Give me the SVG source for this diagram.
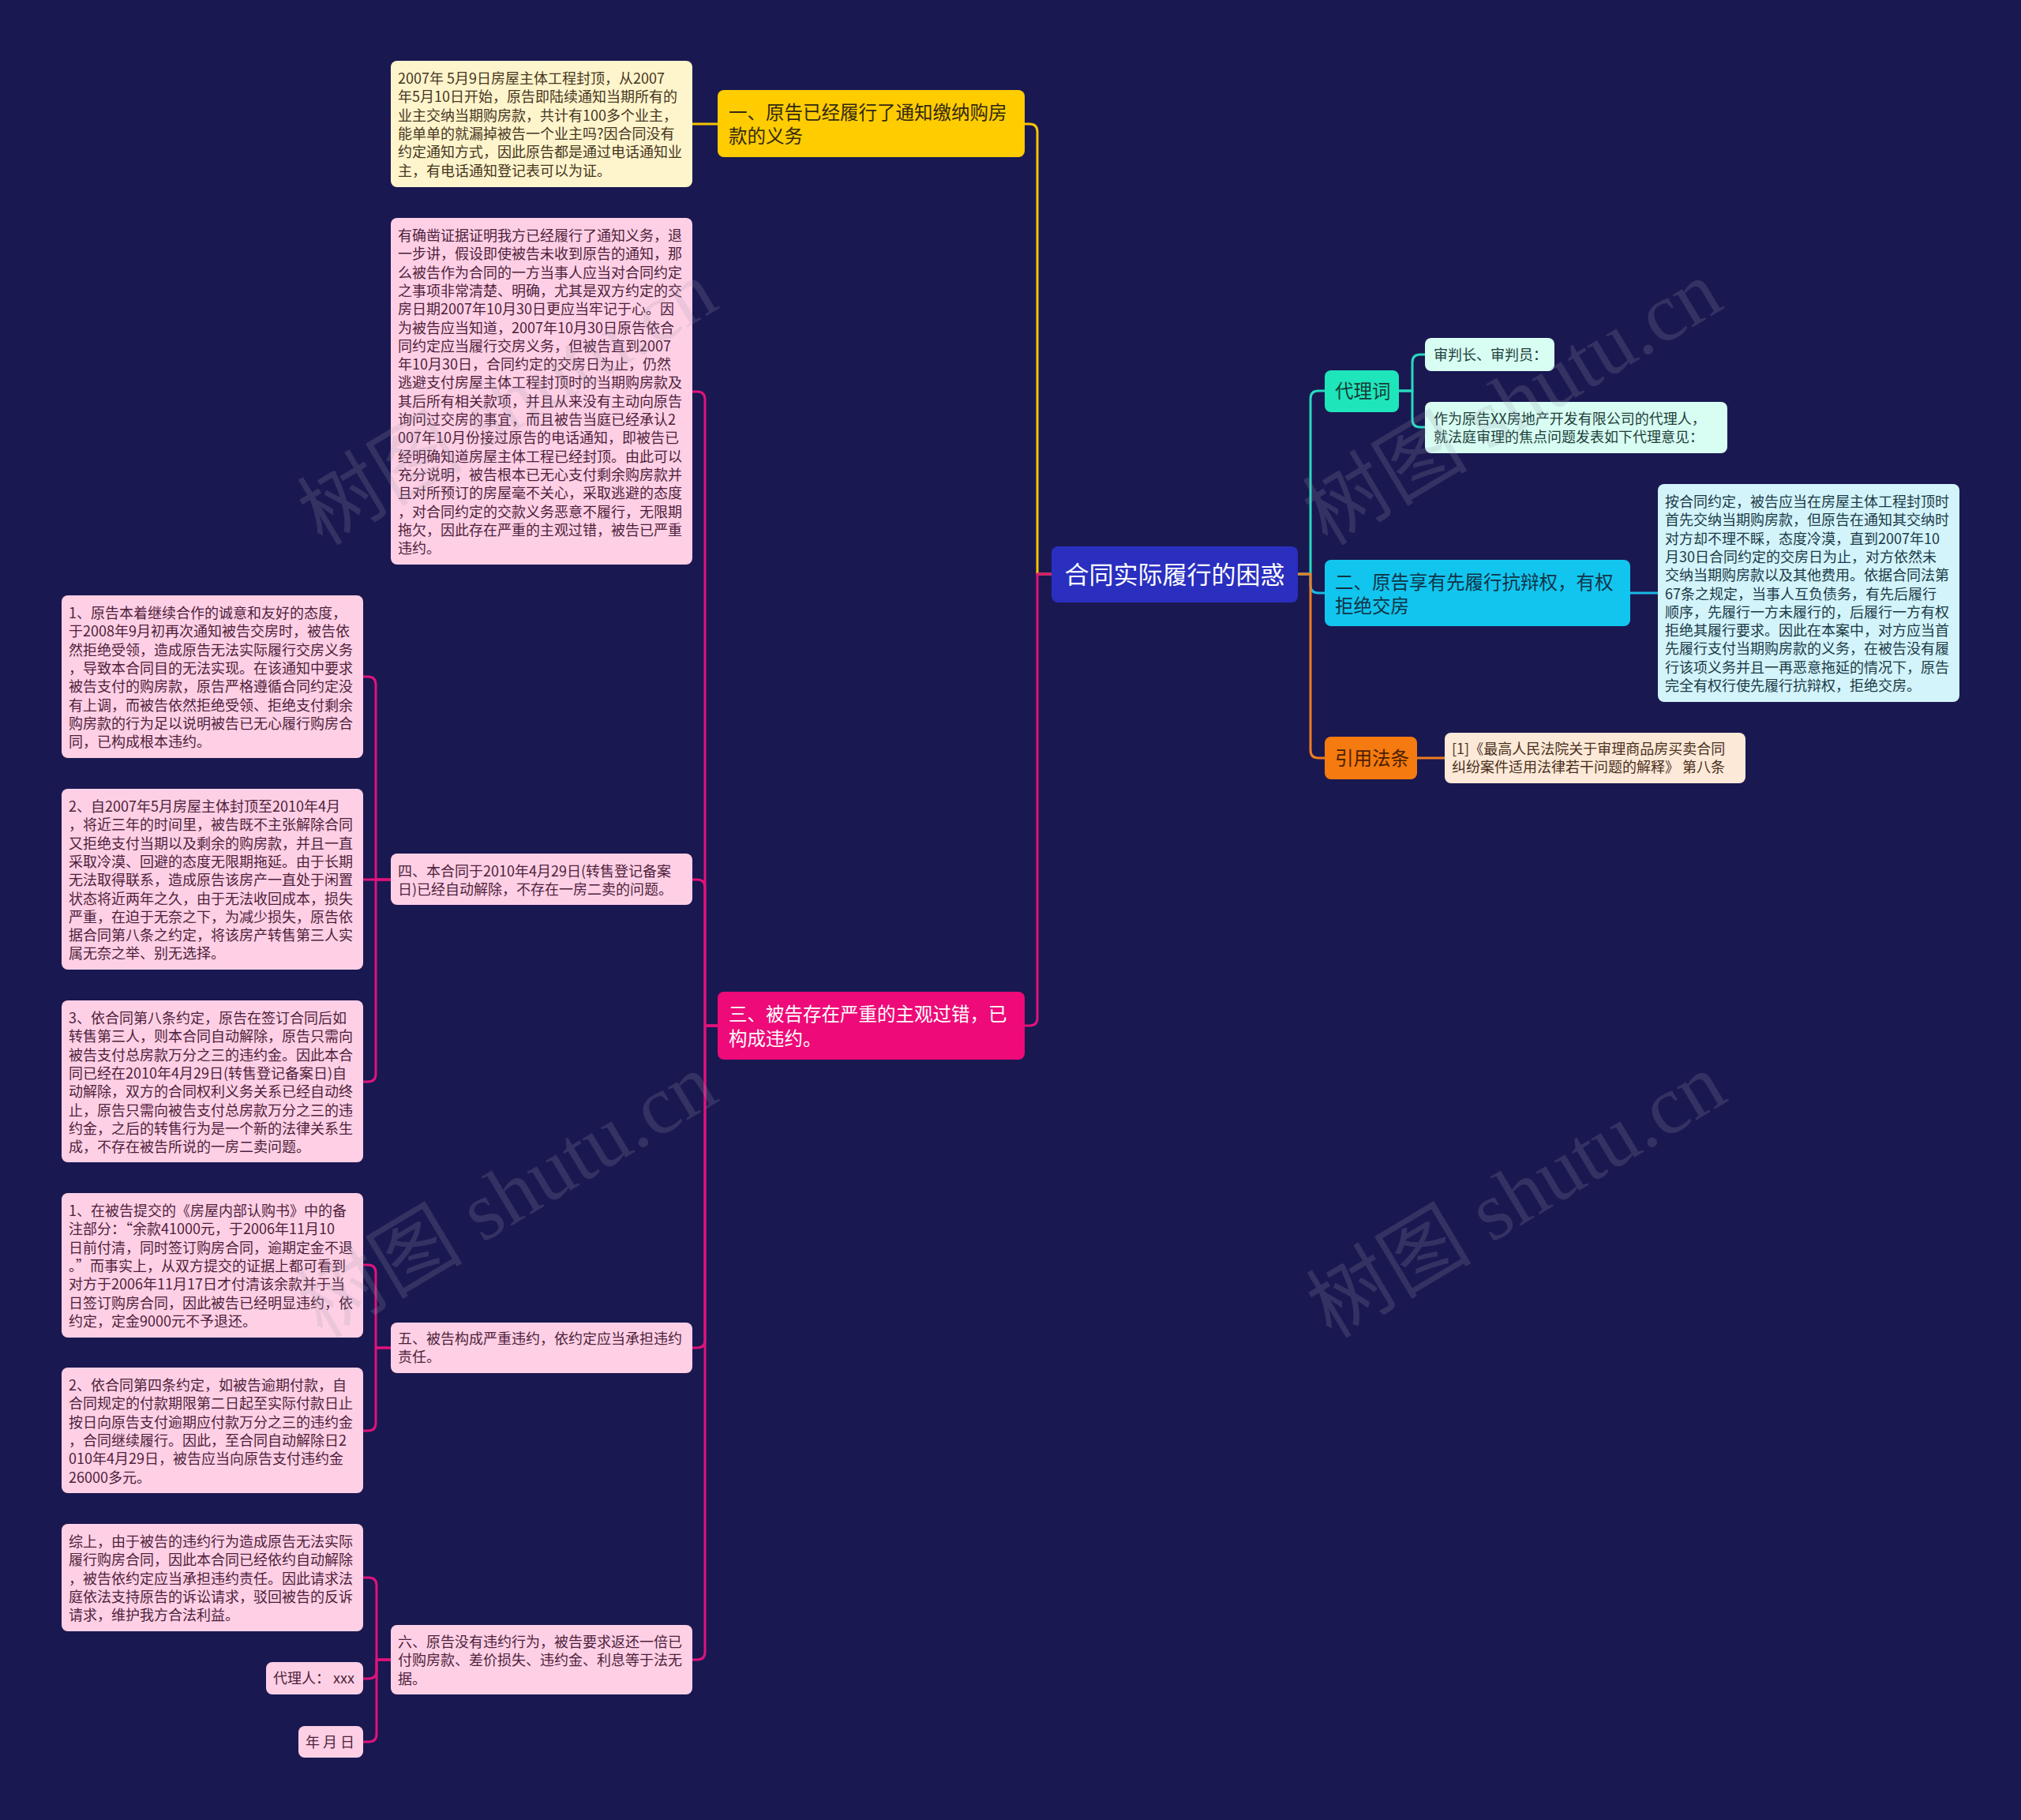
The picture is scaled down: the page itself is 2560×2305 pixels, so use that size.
<svg xmlns="http://www.w3.org/2000/svg" width="2560" height="2305" viewBox="0 0 2560 2305">
<style>
text{font-family:"Noto Sans CJK SC","Noto Sans",sans-serif}
.t18{font-size:18px}
.t23{font-size:23.5px}
.t31{font-size:31px}
.c{fill:none;stroke-width:3;stroke-linecap:round;stroke-linejoin:round}
.cy{stroke:#f5c400}.cp{stroke:#e0137a}.ct{stroke:#29d9c0}.cc{stroke:#18bbe4}.co{stroke:#ef7d1f}
.pk rect{fill:#ffd0e5}.pk text{fill:#4e1f3c}
.wm{font-family:"Liberation Serif","Noto Sans CJK SC",serif;font-size:105px;fill:#9a9ab0;fill-opacity:0.2}
</style>
<rect x="0" y="0" width="2560" height="2305" fill="#1a1851"/>

<g id="connectors">
<path class="c cy" d="M1332,727 H1314 V167 Q1314,157 1304,157 H1298"/>
<path class="c cp" d="M1332,727 H1314 V1289 Q1314,1299 1304,1299 H1298"/>
<path class="c cy" d="M909,157 H877"/>
<path class="c cp" d="M909,1299 H893 V506 Q893,496 883,496 H877"/>
<path class="c cp" d="M909,1299 H893 V1124 Q893,1114 883,1114 H877"/>
<path class="c cp" d="M909,1299 H893 V1697 Q893,1707 883,1707 H877"/>
<path class="c cp" d="M909,1299 H893 V2092 Q893,2102 883,2102 H877"/>
<path class="c cp" d="M495,1114 H476 V867 Q476,857 466,857 H460"/>
<path class="c cp" d="M495,1114 H460"/>
<path class="c cp" d="M495,1114 H476 V1360 Q476,1370 466,1370 H460"/>
<path class="c cp" d="M495,1707 H476 V1612 Q476,1602 466,1602 H460"/>
<path class="c cp" d="M495,1707 H476 V1802 Q476,1812 466,1812 H460"/>
<path class="c cp" d="M495,2102 H477 V2008 Q477,1998 467,1998 H460"/>
<path class="c cp" d="M495,2102 H477 V2116 Q477,2126 467,2126 H460"/>
<path class="c cp" d="M495,2102 H477 V2196 Q477,2206 467,2206 H460"/>
<path class="c ct" d="M1644,727 H1660 V505 Q1660,495 1670,495 H1678"/>
<path class="c cc" d="M1644,727 H1660 V741 Q1660,751 1670,751 H1678"/>
<path class="c co" d="M1644,727 H1660 V950 Q1660,960 1670,960 H1678"/>
<path class="c ct" d="M1772,495 H1789 V459 Q1789,449 1799,449 H1805"/>
<path class="c ct" d="M1772,495 H1789 V531 Q1789,541 1799,541 H1805"/>
<path class="c cc" d="M2065,751 H2100"/>
<path class="c co" d="M1795,960 H1830"/>
</g>

<g id="root">
<rect x="1332" y="692" width="312" height="71" rx="8" fill="#2a2fc0"/>
<text class="t31" x="1488" y="739" text-anchor="middle" fill="#ffffff">合同实际履行的困惑</text>
</g>

<g id="n1">
<rect x="909" y="114" width="389" height="85" rx="8" fill="#ffcc00"/>
<text class="t23" fill="#33290f"><tspan x="923" y="151">一、原告已经履行了通知缴纳购房</tspan><tspan x="923" y="181">款的义务</tspan></text>
</g>
<g id="n1a">
<rect x="495" y="77" width="382" height="160" rx="8" fill="#fff5cc"/>
<text class="t18" fill="#46361f"><tspan x="504" y="106">2007年 5月9日房屋主体工程封顶，从2007</tspan><tspan x="504" y="129.3">年5月10日开始，原告即陆续通知当期所有的</tspan><tspan x="504" y="152.6">业主交纳当期购房款，共计有100多个业主，</tspan><tspan x="504" y="175.9">能单单的就漏掉被告一个业主吗?因合同没有</tspan><tspan x="504" y="199.2">约定通知方式，因此原告都是通过电话通知业</tspan><tspan x="504" y="222.5">主，有电话通知登记表可以为证。</tspan></text>
</g>

<g id="n3">
<rect x="909" y="1256" width="389" height="86" rx="8" fill="#ee0a78"/>
<text class="t23" fill="#ffffff"><tspan x="923" y="1293">三、被告存在严重的主观过错，已</tspan><tspan x="923" y="1324">构成违约。</tspan></text>
</g>

<g id="n3a" class="pk">
<rect x="495" y="276" width="382" height="439" rx="8"/>
<text class="t18"><tspan x="504" y="305">有确凿证据证明我方已经履行了通知义务，退</tspan><tspan x="504" y="328.3">一步讲，假设即使被告未收到原告的通知，那</tspan><tspan x="504" y="351.6">么被告作为合同的一方当事人应当对合同约定</tspan><tspan x="504" y="374.9">之事项非常清楚、明确，尤其是双方约定的交</tspan><tspan x="504" y="398.2">房日期2007年10月30日更应当牢记于心。因</tspan><tspan x="504" y="421.5">为被告应当知道，2007年10月30日原告依合</tspan><tspan x="504" y="444.8">同约定应当履行交房义务，但被告直到2007</tspan><tspan x="504" y="468.1">年10月30日，合同约定的交房日为止，仍然</tspan><tspan x="504" y="491.4">逃避支付房屋主体工程封顶时的当期购房款及</tspan><tspan x="504" y="514.7">其后所有相关款项，并且从来没有主动向原告</tspan><tspan x="504" y="538">询问过交房的事宜，而且被告当庭已经承认2</tspan><tspan x="504" y="561.3">007年10月份接过原告的电话通知，即被告已</tspan><tspan x="504" y="584.6">经明确知道房屋主体工程已经封顶。由此可以</tspan><tspan x="504" y="607.9">充分说明，被告根本已无心支付剩余购房款并</tspan><tspan x="504" y="631.2">且对所预订的房屋毫不关心，采取逃避的态度</tspan><tspan x="504" y="654.5">，对合同约定的交款义务恶意不履行，无限期</tspan><tspan x="504" y="677.8">拖欠，因此存在严重的主观过错，被告已严重</tspan><tspan x="504" y="701.1">违约。</tspan></text>
</g>

<g id="n3b" class="pk">
<rect x="495" y="1081" width="382" height="65" rx="8"/>
<text class="t18"><tspan x="504" y="1110">四、本合同于2010年4月29日(转售登记备案</tspan><tspan x="504" y="1133.3">日)已经自动解除，不存在一房二卖的问题。</tspan></text>
</g>
<g id="n3b1" class="pk">
<rect x="78" y="754" width="382" height="206" rx="8"/>
<text class="t18"><tspan x="87" y="783">1、原告本着继续合作的诚意和友好的态度，</tspan><tspan x="87" y="806.3">于2008年9月初再次通知被告交房时，被告依</tspan><tspan x="87" y="829.6">然拒绝受领，造成原告无法实际履行交房义务</tspan><tspan x="87" y="852.9">，导致本合同目的无法实现。在该通知中要求</tspan><tspan x="87" y="876.2">被告支付的购房款，原告严格遵循合同约定没</tspan><tspan x="87" y="899.5">有上调，而被告依然拒绝受领、拒绝支付剩余</tspan><tspan x="87" y="922.8">购房款的行为足以说明被告已无心履行购房合</tspan><tspan x="87" y="946.1">同，已构成根本违约。</tspan></text>
</g>
<g id="n3b2" class="pk">
<rect x="78" y="999" width="382" height="229" rx="8"/>
<text class="t18"><tspan x="87" y="1028">2、自2007年5月房屋主体封顶至2010年4月</tspan><tspan x="87" y="1051.3">，将近三年的时间里，被告既不主张解除合同</tspan><tspan x="87" y="1074.6">又拒绝支付当期以及剩余的购房款，并且一直</tspan><tspan x="87" y="1097.9">采取冷漠、回避的态度无限期拖延。由于长期</tspan><tspan x="87" y="1121.2">无法取得联系，造成原告该房产一直处于闲置</tspan><tspan x="87" y="1144.5">状态将近两年之久，由于无法收回成本，损失</tspan><tspan x="87" y="1167.8">严重，在迫于无奈之下，为减少损失，原告依</tspan><tspan x="87" y="1191.1">据合同第八条之约定，将该房产转售第三人实</tspan><tspan x="87" y="1214.4">属无奈之举、别无选择。</tspan></text>
</g>
<g id="n3b3" class="pk">
<rect x="78" y="1267" width="382" height="205" rx="8"/>
<text class="t18"><tspan x="87" y="1296">3、依合同第八条约定，原告在签订合同后如</tspan><tspan x="87" y="1319.3">转售第三人，则本合同自动解除，原告只需向</tspan><tspan x="87" y="1342.6">被告支付总房款万分之三的违约金。因此本合</tspan><tspan x="87" y="1365.9">同已经在2010年4月29日(转售登记备案日)自</tspan><tspan x="87" y="1389.2">动解除，双方的合同权利义务关系已经自动终</tspan><tspan x="87" y="1412.5">止，原告只需向被告支付总房款万分之三的违</tspan><tspan x="87" y="1435.8">约金，之后的转售行为是一个新的法律关系生</tspan><tspan x="87" y="1459.1">成，不存在被告所说的一房二卖问题。</tspan></text>
</g>

<g id="n3c" class="pk">
<rect x="495" y="1675" width="382" height="64" rx="8"/>
<text class="t18"><tspan x="504" y="1702">五、被告构成严重违约，依约定应当承担违约</tspan><tspan x="504" y="1725.3">责任。</tspan></text>
</g>
<g id="n3c1" class="pk">
<rect x="78" y="1511" width="382" height="183" rx="8"/>
<text class="t18"><tspan x="87" y="1540">1、在被告提交的《房屋内部认购书》中的备</tspan><tspan x="87" y="1563.3">注部分：“余款41000元，于2006年11月10</tspan><tspan x="87" y="1586.6">日前付清，同时签订购房合同，逾期定金不退</tspan><tspan x="87" y="1609.9">。”而事实上，从双方提交的证据上都可看到</tspan><tspan x="87" y="1633.2">对方于2006年11月17日才付清该余款并于当</tspan><tspan x="87" y="1656.5">日签订购房合同，因此被告已经明显违约，依</tspan><tspan x="87" y="1679.8">约定，定金9000元不予退还。</tspan></text>
</g>
<g id="n3c2" class="pk">
<rect x="78" y="1732" width="382" height="159" rx="8"/>
<text class="t18"><tspan x="87" y="1761">2、依合同第四条约定，如被告逾期付款，自</tspan><tspan x="87" y="1784.3">合同规定的付款期限第二日起至实际付款日止</tspan><tspan x="87" y="1807.6">按日向原告支付逾期应付款万分之三的违约金</tspan><tspan x="87" y="1830.9">，合同继续履行。因此，至合同自动解除日2</tspan><tspan x="87" y="1854.2">010年4月29日，被告应当向原告支付违约金</tspan><tspan x="87" y="1877.5">26000多元。</tspan></text>
</g>

<g id="n3d" class="pk">
<rect x="495" y="2058" width="382" height="88" rx="8"/>
<text class="t18"><tspan x="504" y="2086">六、原告没有违约行为，被告要求返还一倍已</tspan><tspan x="504" y="2109.3">付购房款、差价损失、违约金、利息等于法无</tspan><tspan x="504" y="2132.6">据。</tspan></text>
</g>
<g id="n3d1" class="pk">
<rect x="78" y="1930" width="382" height="136" rx="8"/>
<text class="t18"><tspan x="87" y="1959">综上，由于被告的违约行为造成原告无法实际</tspan><tspan x="87" y="1982.3">履行购房合同，因此本合同已经依约自动解除</tspan><tspan x="87" y="2005.6">，被告依约定应当承担违约责任。因此请求法</tspan><tspan x="87" y="2028.9">庭依法支持原告的诉讼请求，驳回被告的反诉</tspan><tspan x="87" y="2052.2">请求，维护我方合法利益。</tspan></text>
</g>
<g id="n3d2" class="pk">
<rect x="337" y="2105" width="123" height="41" rx="8"/>
<text class="t18" x="346" y="2132">代理人： xxx</text>
</g>
<g id="n3d3" class="pk">
<rect x="378" y="2186" width="82" height="40" rx="8"/>
<text class="t18" x="387" y="2213">年 月 日</text>
</g>

<g id="n4">
<rect x="1678" y="469" width="94" height="53" rx="8" fill="#1fe5bb"/>
<text class="t23" x="1691" y="504" fill="#163c36">代理词</text>
</g>
<g id="n4a">
<rect x="1805" y="428" width="164" height="42" rx="8" fill="#d8fdf3"/>
<text class="t18" x="1816" y="456" fill="#1f3f3a">审判长、审判员：</text>
</g>
<g id="n4b">
<rect x="1805" y="509" width="383" height="65" rx="8" fill="#d8fdf3"/>
<text class="t18" fill="#1f3f3a"><tspan x="1816" y="537">作为原告XX房地产开发有限公司的代理人，</tspan><tspan x="1816" y="560.3">就法庭审理的焦点问题发表如下代理意见：</tspan></text>
</g>

<g id="n2">
<rect x="1678" y="709" width="387" height="84" rx="8" fill="#12c5ee"/>
<text class="t23" fill="#0f3346"><tspan x="1691" y="746">二、原告享有先履行抗辩权，有权</tspan><tspan x="1691" y="776">拒绝交房</tspan></text>
</g>
<g id="n2a">
<rect x="2100" y="613" width="382" height="276" rx="8" fill="#d3f4fb"/>
<text class="t18" fill="#1b3a46"><tspan x="2109" y="642">按合同约定，被告应当在房屋主体工程封顶时</tspan><tspan x="2109" y="665.3">首先交纳当期购房款，但原告在通知其交纳时</tspan><tspan x="2109" y="688.6">对方却不理不睬，态度冷漠，直到2007年10</tspan><tspan x="2109" y="711.9">月30日合同约定的交房日为止，对方依然未</tspan><tspan x="2109" y="735.2">交纳当期购房款以及其他费用。依据合同法第</tspan><tspan x="2109" y="758.5">67条之规定，当事人互负债务，有先后履行</tspan><tspan x="2109" y="781.8">顺序，先履行一方未履行的，后履行一方有权</tspan><tspan x="2109" y="805.1">拒绝其履行要求。因此在本案中，对方应当首</tspan><tspan x="2109" y="828.4">先履行支付当期购房款的义务，在被告没有履</tspan><tspan x="2109" y="851.7">行该项义务并且一再恶意拖延的情况下，原告</tspan><tspan x="2109" y="875">完全有权行使先履行抗辩权，拒绝交房。</tspan></text>
</g>

<g id="n5">
<rect x="1678" y="933" width="117" height="54" rx="8" fill="#f57a0f"/>
<text class="t23" x="1691" y="969" fill="#4a1e00">引用法条</text>
</g>
<g id="n5a">
<rect x="1830" y="928" width="381" height="64" rx="8" fill="#fde9d7"/>
<text class="t18" fill="#4a301f"><tspan x="1839" y="955">[1]《最高人民法院关于审理商品房买卖合同</tspan><tspan x="1839" y="978.3">纠纷案件适用法律若干问题的解释》 第八条</tspan></text>
</g>

<g id="watermark">
<text class="wm" x="645" y="545" text-anchor="middle" transform="rotate(-31 645 514)">树图 shutu.cn</text>
<text class="wm" x="1918" y="545" text-anchor="middle" transform="rotate(-31 1918 514)">树图 shutu.cn</text>
<text class="wm" x="645" y="1549" text-anchor="middle" transform="rotate(-31 645 1518)">树图 shutu.cn</text>
<text class="wm" x="1923" y="1549" text-anchor="middle" transform="rotate(-31 1923 1518)">树图 shutu.cn</text>
</g>
</svg>
